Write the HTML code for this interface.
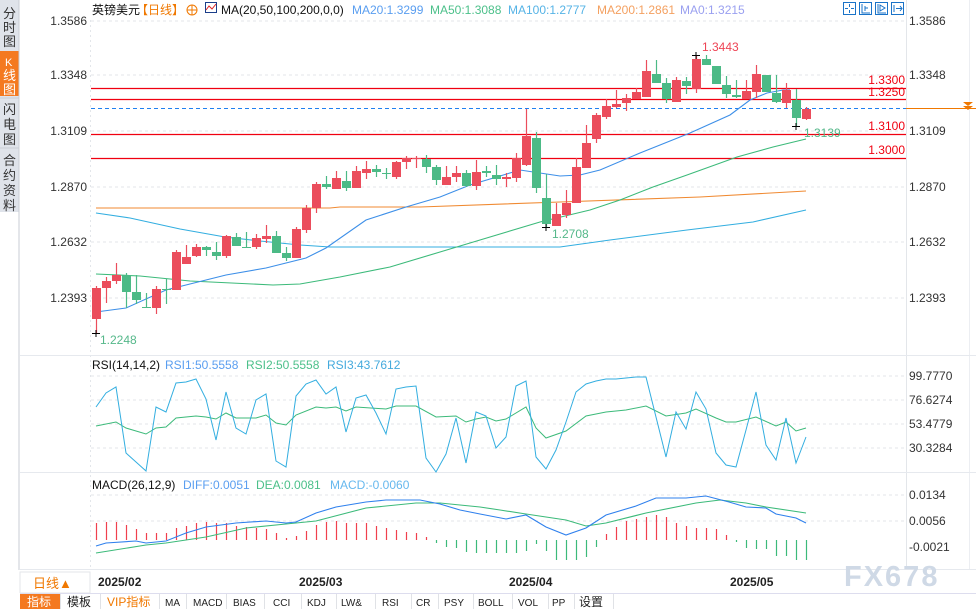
<!DOCTYPE html>
<html><head><meta charset="utf-8"><style>
html,body{margin:0;padding:0;background:#fff;width:976px;height:609px;overflow:hidden}
svg{display:block}
text{font-family:"Liberation Sans","Noto Sans CJK SC",sans-serif;font-size:12px}
</style></head><body>
<svg id="s" width="976" height="609" viewBox="0 0 976 609" xmlns="http://www.w3.org/2000/svg">
<rect x="0" y="0" width="19" height="570" fill="#dfe3ea"/>
<rect x="0" y="51" width="19" height="45" fill="#f47920"/>
<line x1="0" y1="98" x2="19" y2="98" stroke="#c8ccd4"/>
<line x1="0" y1="148" x2="19" y2="148" stroke="#c8ccd4"/>
<rect x="0" y="212" width="19" height="358" fill="#fff"/>
<line x1="19" y1="0" x2="19" y2="570" stroke="#c8ccd4"/>
<g font-size="13" fill="#333">
<text x="3" y="18" style="font-size:13px">分</text><text x="3" y="32" style="font-size:13px">时</text><text x="3" y="46" style="font-size:13px">图</text>
<text x="5" y="66" style="font-size:11px" fill="#fff">K</text><text x="3" y="80" style="font-size:13px" fill="#fff">线</text><text x="3" y="94" style="font-size:13px" fill="#fff">图</text>
<text x="3" y="114" style="font-size:13px">闪</text><text x="3" y="129" style="font-size:13px">电</text><text x="3" y="144" style="font-size:13px">图</text>
<text x="3" y="165" style="font-size:13px">合</text><text x="3" y="180" style="font-size:13px">约</text><text x="3" y="195" style="font-size:13px">资</text><text x="3" y="210" style="font-size:13px">料</text>
</g>
<g stroke="#e3e6ea" stroke-dasharray="3,3">
<line x1="91" y1="21" x2="906" y2="21"/><line x1="91" y1="75" x2="906" y2="75"/><line x1="91" y1="131" x2="906" y2="131"/><line x1="91" y1="187" x2="906" y2="187"/><line x1="91" y1="242" x2="906" y2="242"/><line x1="91" y1="298" x2="906" y2="298"/>
<line x1="91" y1="376" x2="906" y2="376"/><line x1="91" y1="400" x2="906" y2="400"/><line x1="91" y1="424" x2="906" y2="424"/><line x1="91" y1="448" x2="906" y2="448"/>
<line x1="91" y1="495" x2="906" y2="495"/><line x1="91" y1="521" x2="906" y2="521"/>
</g>
<line x1="90.5" y1="20" x2="90.5" y2="568" stroke="#e3e6ea" stroke-dasharray="2,3"/>
<line x1="906.5" y1="0" x2="906.5" y2="570" stroke="#e3e6ea"/>
<line x1="969.5" y1="0" x2="969.5" y2="570" stroke="#eceef2"/>
<line x1="20" y1="355.5" x2="976" y2="355.5" stroke="#e6e9ee"/>
<line x1="20" y1="472.5" x2="976" y2="472.5" stroke="#e6e9ee"/>
<line x1="20" y1="569.5" x2="976" y2="569.5" stroke="#e6e9ee"/>
<g fill="#333" text-anchor="end">
<text x="87" y="25">1.3586</text><text x="87" y="79">1.3348</text><text x="87" y="135">1.3109</text><text x="87" y="191">1.2870</text><text x="87" y="246">1.2632</text><text x="87" y="302">1.2393</text>
</g>
<g fill="#333">
<text x="909" y="25">1.3586</text><text x="909" y="79">1.3348</text><text x="909" y="135">1.3109</text><text x="909" y="191">1.2870</text><text x="909" y="246">1.2632</text><text x="909" y="302">1.2393</text>
<text x="909" y="380">99.7770</text><text x="909" y="404">76.6274</text><text x="909" y="428">53.4779</text><text x="909" y="452">30.3284</text>
<text x="909" y="499">0.0134</text><text x="909" y="525">0.0056</text><text x="909" y="551">-0.0021</text>
</g>
<g fill="none" stroke="#1a73c8">
<rect x="843.5" y="2.5" width="12" height="12"/><rect x="859.5" y="2.5" width="12" height="12"/><rect x="875.5" y="2.5" width="12" height="12"/><rect x="891.5" y="2.5" width="12" height="12"/>
<path d="M849.5 4v3M849.5 10v3M845 8.5h3M851 8.5h3M862 4v9h8M865 6v5M868 8h-3M878 4v9h8M880 5l5 3-5 3z M894 5v7M896 8.5h6M900 6l2 2.5-2 2.5"/>
</g>
<text x="92" y="14" fill="#111">英镑美元</text>
<text x="136" y="14" fill="#f07800">【日线】</text>
<circle cx="192" cy="10" r="5" fill="none" stroke="#f07800"/><path d="M187 10h10M192 5v10" stroke="#f07800"/>
<rect x="205.5" y="2.5" width="11" height="10" fill="#fff" stroke="#1b3e8a"/><path d="M206 10l3-4 3 3 4-5" stroke="#d22" fill="none"/>
<text x="221" y="14" fill="#111">MA(20,50,100,200,0,0)</text>
<text x="352" y="14" fill="#5a9ef0">MA20:1.3299</text>
<text x="430" y="14" fill="#4cc08a">MA50:1.3088</text>
<text x="508" y="14" fill="#55b3e6">MA100:1.2777</text>
<text x="597" y="14" fill="#f4a060">MA200:1.2861</text>
<text x="680" y="14" fill="#9aa0f0">MA0:1.3215</text>
<g stroke="#f00010" stroke-width="1.3">
<line x1="91" y1="88.5" x2="906" y2="88.5"/><line x1="91" y1="99.5" x2="906" y2="99.5"/><line x1="91" y1="134.5" x2="906" y2="134.5"/><line x1="91" y1="158.5" x2="906" y2="158.5"/>
</g>
<line x1="91" y1="108.5" x2="906" y2="108.5" stroke="#2080f0" stroke-dasharray="4,3"/>
<line x1="906" y1="108.5" x2="976" y2="108.5" stroke="#f07800"/>
<path d="M963 102h10l-5 4z M963 106h10l-5 4z" fill="#f07800"/>
<g fill="#f00010" text-anchor="end">
<text x="905" y="84">1.3300</text><text x="905" y="96">1.3250</text><text x="905" y="130">1.3100</text><text x="905" y="154">1.3000</text>
</g>
<g id="mas" fill="none" stroke-width="1.1">
<polyline stroke="#f08a32" points="96,208 330,208 340,207 420,207 560,202 700,197 806,191"/>
<polyline stroke="#33aee0" points="96,213 130,218 180,229 225,237 260,241 300,245 330,247 560,247 610,240 687,230 753,222 806,210"/>
<polyline stroke="#3cba7a" points="96,274 140,276 190,281 273,285 300,284 340,277 390,267 440,252 480,240 540,222 590,210 620,200 653,187 687,175 737,157 773,147 806,139"/>
<polyline stroke="#3d8fe8" points="96,312 126,308 166,290 226,275 266,268 306,258 326,248 366,220 406,207 440,197 470,185 520,170 560,176 580,175 600,170 640,153 690,133 730,115 750,100 767,93 783,90 790,90"/>
</g>
<g id="candles"></g>
<g stroke="#000"><path d="M92 333.5h8M96 330v7M692 55.5h8M696 52v7M542 227.5h8M546 224v7M792 126.5h8M796 123v7"/></g>
<text x="702" y="51" fill="#ee4455">1.3443</text>
<text x="552" y="238" fill="#55b88a">1.2708</text>
<text x="100" y="344" fill="#55b88a">1.2248</text>
<text x="804" y="137" fill="#55b88a">1.3139</text>
<text x="92" y="369" fill="#111">RSI(14,14,2)</text>
<text x="165" y="369" fill="#5a9ef0">RSI1:50.5558</text>
<text x="246" y="369" fill="#4cc08a">RSI2:50.5558</text>
<text x="327" y="369" fill="#44aadd">RSI3:43.7612</text>
<polyline fill="none" stroke="#3cba7a" points="96,426 116,422 126,428 146,434 156,428 166,427 176,418 196,416 206,417 216,419 226,413 236,418 256,418 266,415 276,423 286,425 296,415 316,407 326,408 336,407 346,411 356,407 386,409 396,406 416,406 436,417 456,416 466,422 476,419 486,417 496,421 506,419 526,407 536,428 546,438 566,431 586,416 606,412 626,410 646,406 666,416 686,413 696,409 716,418 726,422 736,422 756,417 776,426 786,422 796,431 806,428"/>
<polyline fill="none" stroke="#33aee0" points="96,407 106,393 116,387 126,453 136,462 146,471 156,407 166,412 176,383 186,382 196,379 206,399 216,440 226,392 236,428 246,434 256,400 266,394 276,461 286,467 296,396 306,384 316,380 326,394 336,387 346,432 356,398 366,395 376,413 386,434 396,389 406,387 416,386 426,458 436,472 446,454 456,418 466,463 476,412 486,416 496,448 506,437 516,386 526,381 536,457 546,469 556,450 566,422 576,392 586,384 596,381 606,379 616,379 626,378 636,377 646,377 656,417 666,457 676,412 686,429 696,392 706,409 716,453 726,465 736,467 746,430 756,392 766,445 776,460 786,418 796,463 806,437"/>
<text x="92" y="489" fill="#111">MACD(26,12,9)</text>
<text x="183" y="489" fill="#5a9ef0">DIFF:0.0051</text>
<text x="256" y="489" fill="#4cc08a">DEA:0.0081</text>
<text x="330" y="489" fill="#66b8ee">MACD:-0.0060</text>
<g id="hist"></g>
<polyline fill="none" stroke="#3cba7a" stroke-width="1.1" points="96,553 146,545 166,543 206,537 246,528 286,524 316,521 366,508 416,503 440,503 460,505 480,507 500,510 526,514 566,520 586,526 606,523 646,513 696,503 720,500 746,503 766,507 806,513"/>
<polyline fill="none" stroke="#2f80ed" stroke-width="1.1" points="96,546 106,543 136,541 146,543 166,541 186,533 206,527 236,523 266,521 286,523 296,522 316,513 336,507 366,502 386,500 420,500 440,504 460,510 480,514 506,519 526,515 546,527 566,535 586,528 606,515 636,506 656,498 686,498 706,496 729,502 746,507 766,508 776,514 796,518 806,523"/>
<rect x="20" y="572" width="70" height="21" fill="#fff" stroke="#e3e6ea"/>
<text x="33" y="588" fill="#f07800" style="font-size:13px">日线▲</text>
<g fill="#222">
<text x="98" y="586" style="font-size:12px;font-weight:bold">2025/02</text>
<text x="299" y="586" style="font-size:12px;font-weight:bold">2025/03</text>
<text x="509" y="586" style="font-size:12px;font-weight:bold">2025/04</text>
<text x="730" y="586" style="font-size:12px;font-weight:bold">2025/05</text>
</g>
<text x="844" y="586" fill="#cfd9e6" style="font-size:29px;font-weight:bold;letter-spacing:2px">FX678</text>
<rect x="0" y="593" width="976" height="16" fill="#fff"/>
<line x1="20" y1="593.5" x2="976" y2="593.5" stroke="#dde"/>
<rect x="20" y="594" width="40" height="15" fill="#f47920"/>
<g fill="#222">
<text x="27" y="606" fill="#fff" style="font-size:12px">指标</text>
<text x="67" y="606" style="font-size:12px">模板</text>
<text x="107" y="606" fill="#f07800" style="font-size:12px">VIP指标</text>
<text x="165" y="606" style="font-size:10px">MA</text>
<text x="193" y="606" style="font-size:10px">MACD</text>
<text x="233" y="606" style="font-size:10px">BIAS</text>
<text x="273" y="606" style="font-size:10px">CCI</text>
<text x="307" y="606" style="font-size:10px">KDJ</text>
<text x="341" y="606" style="font-size:10px">LW&amp;</text>
<text x="382" y="606" style="font-size:10px">RSI</text>
<text x="416" y="606" style="font-size:10px">CR</text>
<text x="444" y="606" style="font-size:10px">PSY</text>
<text x="478" y="606" style="font-size:10px">BOLL</text>
<text x="518" y="606" style="font-size:10px">VOL</text>
<text x="552" y="606" style="font-size:10px">PP</text>
<text x="579" y="606" style="font-size:12px">设置</text>
</g>
<g stroke="#e0e2e6"><path d="M60.5 594v15M100.5 594v15M159.5 594v15M186.5 594v15M226.5 594v15M264.5 594v15M301.5 594v15M336.5 594v15M375.5 594v15M411.5 594v15M438.5 594v15M473.5 594v15M512.5 594v15M548.5 594v15M574.5 594v15M613.5 594v15"/></g>
</svg>
<script>
var C=[["u",288,319,286,333],["u",281,288,277,303],["u",275,281,263,284],["d",275,292,273,308],["d",292,300,275,304],["d",307,308,293,308],["u",289,308,286,314],["d",289,290,279,304],["u",252,290,250,290],["u",257,264,245,264],["u",247,256,244,257],["d",247,250,246,256],["d",252,256,242,260],["u",236,256,235,258],["d",237,246,233,246],["d",247,248,232,248],["u",238,247,234,249],["u",236,239,225,243],["d",236,253,231,253],["d",253,258,247,261],["u",229,258,227,258],["u",208,230,205,233],["u",184,208,182,213],["d",184,187,176,189],["u",178,189,171,189],["d",181,188,171,191],["u",171,188,166,188],["u",169,173,161,179],["d",169,172,165,177],["d",173,174,168,179],["u",162,177,161,179],["u",158,162,156,169],["u",158,159,156,168],["d",159,167,155,173],["d",167,180,165,185],["u",177,185,166,185],["u",173,177,166,182],["d",173,186,170,187],["u",172,186,160,190],["d",171,173,166,177],["d",175,179,165,185],["u",177,179,173,187],["u",158,178,153,182],["u",136,165,109,166],["d",138,188,132,193],["d",198,224,174,227],["u",214,226,203,226],["u",203,215,190,218],["u",167,203,158,203],["u",143,168,125,168],["u",115,139,113,143],["u",106,117,99,119],["u",104,107,90,108],["u",98,103,94,111],["u",92,99,88,99],["u",71,97,60,97],["d",74,83,60,83],["d",83,99,78,103],["u",80,102,77,102],["d",81,86,77,94],["u",59,89,55,93],["d",59,65,55,65],["d",66,84,66,84],["d",85,94,76,98],["d",95,97,80,98],["u",91,99,80,99],["u",74,92,65,98],["d",75,92,75,92],["d",93,102,75,103],["u",90,103,83,108],["d",100,118,89,126],["u",109,119,107,120]];
var H=[523,522,522,525,529,533,533,533,528,526,523,522,523,523,526,527,528,529,533,538,536,531,525,522,521,523,523,523,526,528,530,532,533,537,543,547,548,552,553,553,553,553,553,551,544,551,560,560,560,557,547,534,527,521,519,517,515,517,523,526,528,528,529,535,542,548,549,549,556,556,560,560];
var g=document.getElementById("candles"),h=document.getElementById("hist"),s="";
C.forEach(function(c,i){var x=96+10*i,col=c[0]=="u"?"#eb4d5c":"#4cba86";
s+='<line x1="'+(x+.5)+'" y1="'+c[3]+'" x2="'+(x+.5)+'" y2="'+c[4]+'" stroke="'+col+'" stroke-width="1.2"/>';
s+='<rect x="'+(x-4)+'" y="'+c[1]+'" width="9" height="'+Math.max(1,c[2]-c[1])+'" fill="'+col+'"/>';});
g.innerHTML=s;s="";
H.forEach(function(v,i){var x=96.5+10*i,col=v<540?"#f0404e":"#3cba7a";
s+='<line x1="'+x+'" y1="540" x2="'+x+'" y2="'+v+'" stroke="'+col+'" stroke-width="1.2"/>';});
h.innerHTML=s;
</script>
</body></html>
